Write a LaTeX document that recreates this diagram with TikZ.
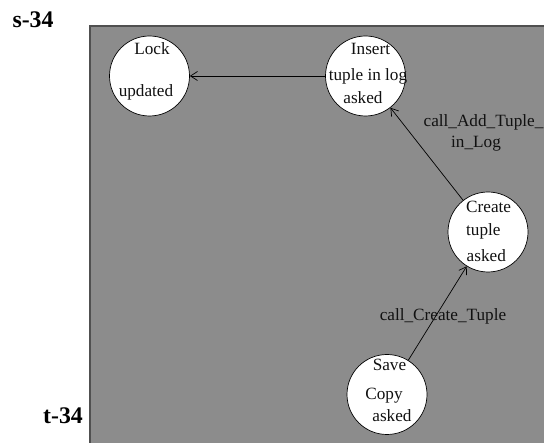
\documentclass[tikz,border=0pt]{standalone}
\usepackage{fontspec}
\setmainfont{Liberation Serif}
\usetikzlibrary{positioning, arrows.meta}
\definecolor{panel}{HTML}{8C8C8C}
\definecolor{rim}{HTML}{505050}
\definecolor{ink}{HTML}{111111}

\begin{document}
\begin{tikzpicture}[x=1pt, y=-1pt,
    state/.style={circle, draw=black, line width=0.7pt, fill=white, minimum size=80pt, inner sep=0pt},
    txt/.style={font=\fontsize{17.2}{20}\selectfont, text=ink, inner sep=0pt, text height=0.7em, text depth=0.2em, yshift=-2.5pt},
    tag/.style={font=\fontsize{23.8}{26}\selectfont\bfseries, inner sep=0pt},
    flow/.style={-{Straight Barb[length=7pt, width=9pt]}, line width=0.7pt}]

  \useasboundingbox (0,0) rectangle (544,443);

  % Grey panel (only left and top edge visible).
  \fill[panel] (90,26) rectangle (544,443);
  \draw[rim, line width=1.5pt] (90,443) -- (90,26) -- (544,26);

  % States.
  \node[state] (lock) at (149.5,76) {};
  \node[state] (insert) at (365.5,76) {};
  \node[state] (create) at (488,232) {};
  \node[state] (save) at (387,394.5) {};

  % State texts.
  \node[txt] (lock-a) at (152,50) {Lock};
  \node[txt] (lock-b) at (146,92) {updated};
  \node[txt] (insert-a) at (370.5,50) {Insert};
  \node[txt] (insert-b) at (368,76) {tuple in log};
  \node[txt] (insert-c) at (363,99) {asked};
  \node[txt, anchor=west] (create-a) at (466,208) {Create};
  \node[txt, anchor=west] (create-b) at (466,231) {tuple};
  \node[txt, anchor=west] (create-c) at (466.5,257) {asked};
  \node[txt] (save-a) at (389.5,366) {Save};
  \node[txt] (save-b) at (384,395) {Copy};
  \node[txt] (save-c) at (392,417) {asked};

  % Transitions.
  \draw[flow] (save) -- (create);
  \draw[flow] (create) -- (insert);
  \draw[flow] (insert) -- (lock);

  % Transition labels.
  \node[txt] (call-create) at (443,316) {call\_Create\_Tuple};
  \node[txt] (call-add-a) at (483.5,122) {call\_Add\_Tuple\_};
  \node[txt] (call-add-b) at (476,143) {in\_Log};

  % Source / target tags.
  \node[tag] (src) at (33,20) {s-34};
  \node[tag] (tgt) at (63,415.5) {t-34};
\end{tikzpicture}
\end{document}
